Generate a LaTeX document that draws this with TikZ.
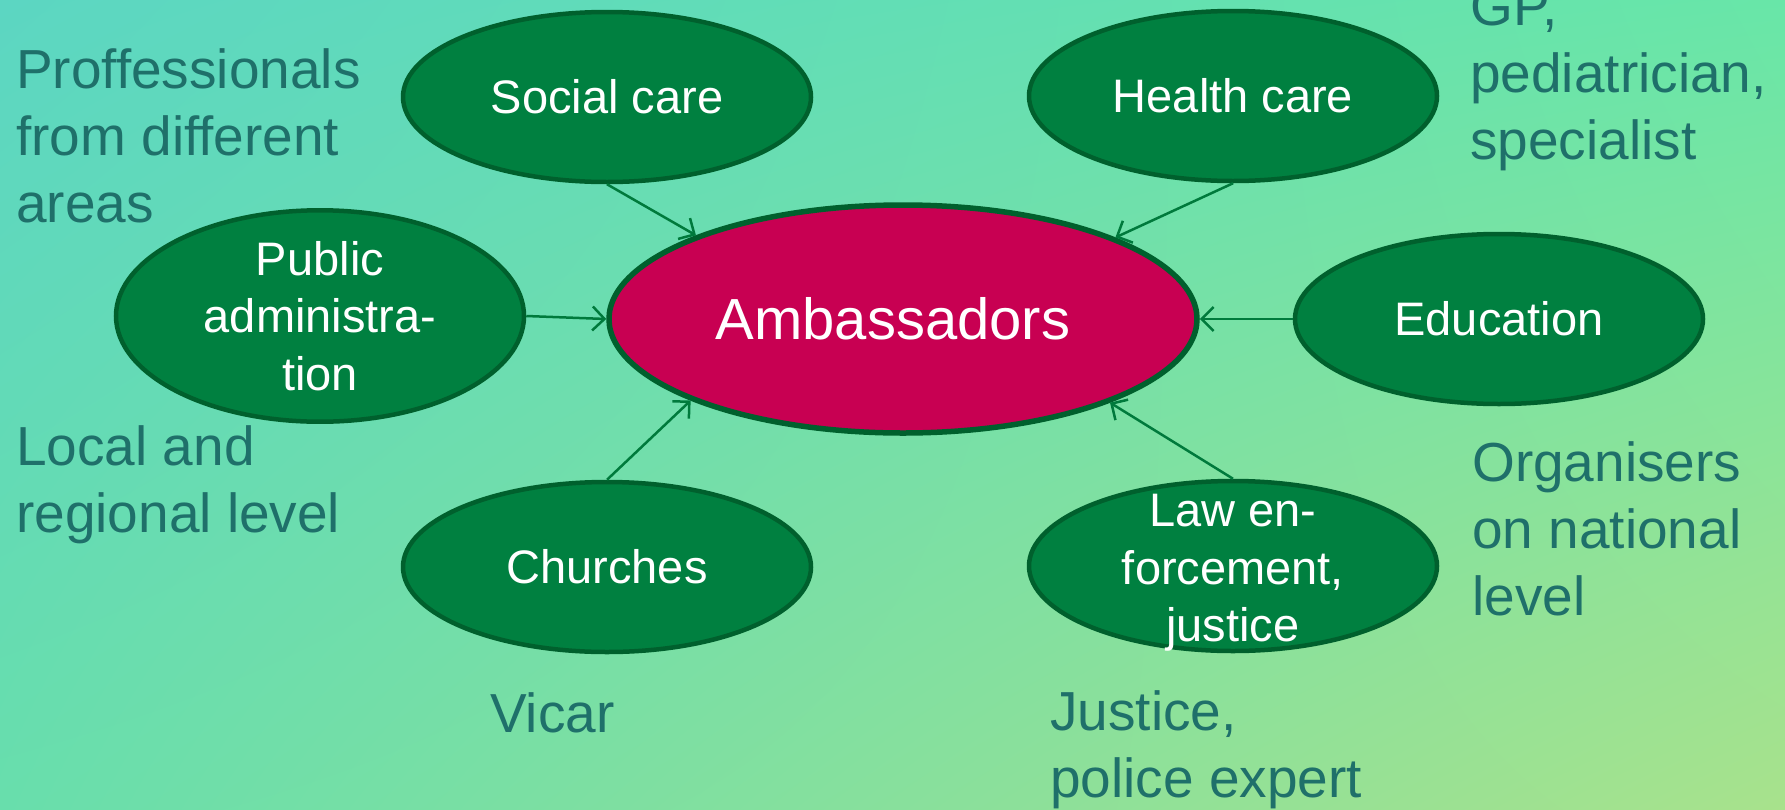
\documentclass[tikz,border=0pt]{standalone}
\usepackage{fontspec}
\setmainfont{Liberation Sans}
\usetikzlibrary{shapes.geometric,arrows.meta,shadings}
\definecolor{bgUL}{RGB}{92,214,194}
\definecolor{bgUR}{RGB}{104,230,168}
\definecolor{bgLL}{RGB}{104,222,172}
\definecolor{bgLR}{RGB}{168,226,140}
\definecolor{nodefill}{RGB}{0,128,64}
\definecolor{nodeborder}{RGB}{0,96,45}
\definecolor{ambfill}{RGB}{200,0,82}
\definecolor{arrowcol}{RGB}{0,122,60}
\definecolor{labelcol}{RGB}{31,112,106}
\tikzset{
  greenell/.style={ellipse, draw=nodeborder, fill=nodefill, line width=4.5pt,
    minimum width=408pt, minimum height=170pt, inner sep=0pt, text=white,
    align=center, font=\fontsize{47}{57.5}\selectfont},
  inntext/.style={inner sep=0pt, text=white, align=center,
    font=\fontsize{47}{57.5}\selectfont},
  ambell/.style={ellipse, draw=nodeborder, fill=ambfill, line width=5.5pt,
    minimum width=588pt, minimum height=228pt, inner sep=0pt, text=white,
    font=\fontsize{58}{70}\selectfont},
  arr/.style={draw=arrowcol, line width=2.5pt,
    -{Straight Barb[length=12pt,width=24pt,line width=2.5pt]}},
  outlabel/.style={anchor=base west, align=left, inner sep=0pt, text=labelcol,
    font=\fontsize{55}{67}\selectfont}
}
\begin{document}
\begin{tikzpicture}[x=1pt,y=-1pt]
\useasboundingbox (0,0) rectangle (1785,809);
\shade[upper left=bgUL, upper right=bgUR, lower left=bgLL, lower right=bgLR]
  (0,0) rectangle (1785,809);

\node[ambell] (amb) at (903,319) {\hspace*{-20pt}Ambassadors};
\node[greenell] (social) at (607,97) {Social care};
\node[greenell] (health) at (1233,96) {Health care};
\node[greenell] (public) at (320,316) {Public\\administra-\\tion};
\node[greenell] (edu) at (1499,319) {Education};
\node[greenell] (church) at (607,567) {Churches};
\node[greenell] (law) at (1233,566) {};
\node[inntext] (lawtext) at ([yshift=-7pt]law.center) {Law en-\\forcement,\\justice};

\draw[arr] (social.south) -- (amb.158.7);
\draw[arr] (health.south) -- (amb.21.3);
\draw[arr] (public.east) -- (amb.west);
\draw[arr] (edu.west) -- (amb.east);
\draw[arr] (church.north) -- (amb.201.3);
\draw[arr] (law.north) -- (amb.338.7);

\node[outlabel] (lprof) at (16,222) {Proffessionals\\from different\\areas};
\node[outlabel] (llocal) at (16,532) {Local and\\regional level};
\node[outlabel] (lvicar) at (490,732) {Vicar};
\node[outlabel] (ljust) at (1050,797) {Justice,\\police expert};
\node[outlabel] (lorg) at (1472,615) {Organisers\\on national\\level};
\node[outlabel] (lgp) at (1470,159) {GP,\\pediatrician,\\specialist};
\end{tikzpicture}
\end{document}
